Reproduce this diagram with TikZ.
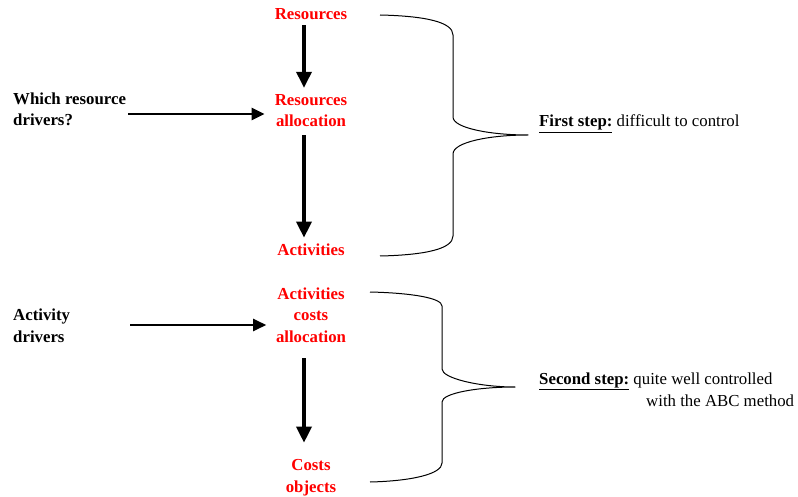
\documentclass[tikz,border=0pt]{standalone}
\usepackage{fontspec}
\setmainfont{Liberation Serif}
\usetikzlibrary{arrows.meta}
\begin{document}
\begin{tikzpicture}[x=1pt,y=-1pt,
  lab/.style={inner sep=0pt, font=\fontsize{16.8}{21.5}\selectfont},
  redlab/.style={inner sep=0pt, text=red, align=center, font=\fontsize{16.8}{21.5}\selectfont\bfseries},
  blklab/.style={inner sep=0pt, align=left, font=\fontsize{16.8}{21.5}\selectfont\bfseries},
  varrow/.style={line width=3.5pt, -{Triangle[length=16pt,width=15pt]}},
  harrow/.style={line width=2.5pt, -{Triangle[length=13pt,width=12pt]}},
  bracepath/.style={line width=1pt, line join=round}]
\useasboundingbox (0,0) rectangle (798,497);
% red chain (base anchor = baseline of last line)
\node[redlab, anchor=base] (res) at (311,20) {Resources};
\node[redlab, anchor=base] (alloc) at (311,127) {Resources\\allocation};
\node[redlab, anchor=base] (act) at (311,255) {Activities};
\node[redlab, anchor=base] (aca) at (311,342) {Activities\\costs\\allocation};
\node[redlab, anchor=base] (co) at (311,492) {Costs\\objects};
% left drivers
\node[blklab, anchor=base west] (wrd) at (13,126) {Which resource\\drivers?};
\node[blklab, anchor=base west] (ad) at (13,342) {Activity\\drivers};
% right texts
\node[lab, anchor=base west, align=left] (s1) at (539,127) {\underline{\textbf{First step:}} difficult to control};
\node[lab, anchor=base west, align=left] (s2) at (539,406) {\underline{\textbf{Second step:}} quite well controlled\\\hspace*{107pt}with the ABC method};
% helper coordinates
\coordinate (vx) at (304,0);
\coordinate (h1) at (0,114);
\coordinate (h2) at (0,325);
% vertical arrows
\draw[varrow, shorten <=5pt, shorten >=6.5pt] (vx |- res.south) -- (vx |- alloc.north);
\draw[varrow, shorten <=8pt, shorten >=5.5pt] (vx |- alloc.south) -- (vx |- act.north);
\draw[varrow, shorten <=16pt, shorten >=16.5pt] (vx |- aca.south) -- (vx |- co.north);
% horizontal arrows
\draw[harrow, shorten <=2pt, shorten >=10pt] (wrd.east |- h1) -- (alloc.west |- h1);
\draw[harrow, shorten <=60pt, shorten >=9.6pt] (ad.east |- h2) -- (aca.west |- h2);
% braces
\draw[bracepath] (380,15) .. controls (425,16) and (453,22) .. (453,35) -- (453,117)
  .. controls (453,128) and (490,135) .. (528,135)
  .. controls (490,135) and (453,142) .. (453,154) -- (453,236)
  .. controls (453,249) and (425,255) .. (380,256);
\draw[bracepath] (370,292) .. controls (412,293) and (442,298) .. (442,306) -- (442,369)
  .. controls (442,378) and (478,387) .. (515,387)
  .. controls (478,387) and (442,393) .. (442,402) -- (442,463)
  .. controls (442,474) and (412,481) .. (370,482);
\end{tikzpicture}
\end{document}
